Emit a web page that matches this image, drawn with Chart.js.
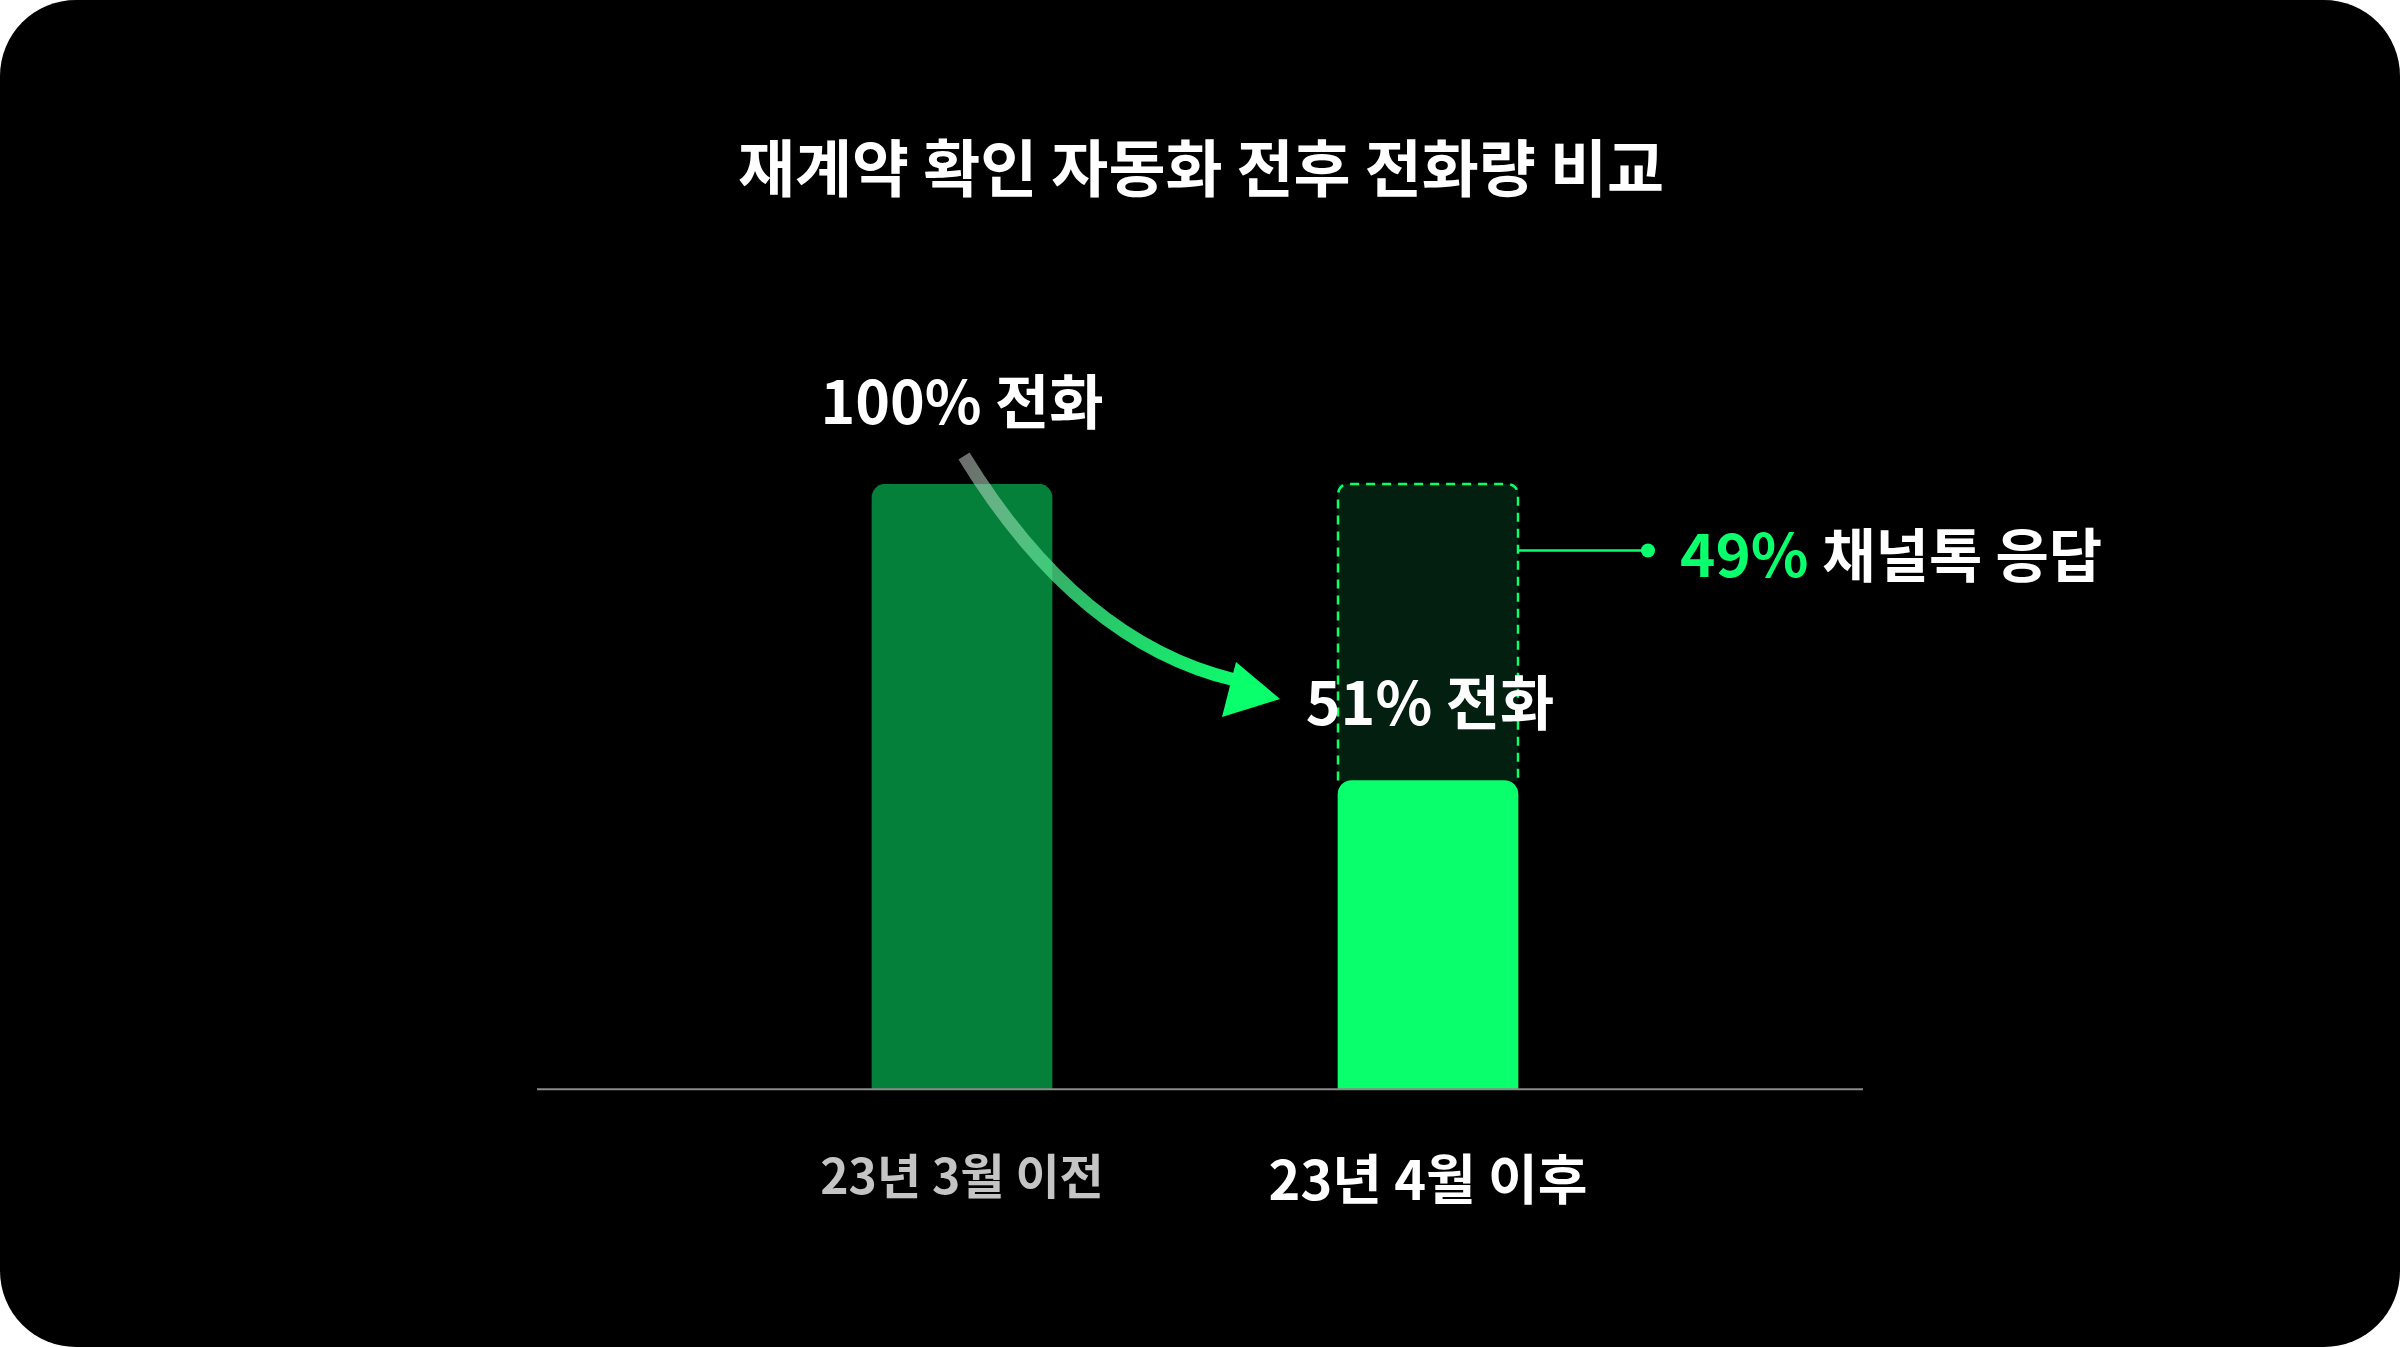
<!DOCTYPE html>
<html>
<head>
<meta charset="utf-8">
<script src="https://cdn.jsdelivr.net/npm/chart.js@4"></script>
<style>
html,body{margin:0;padding:0;background:#fff;}
#wrap{width:2400px;height:1347px;background:#000;border-radius:76px;overflow:hidden;}
</style>
</head>
<body>
<div id="wrap"><canvas id="c" width="2400" height="1347"></canvas></div>
<script>
var categories = ['23년 3월 이전', '23년 4월 이후'];
var calls = [100, 51];
var chatResponses = [0, 49];
var titleText = '재계약 확인 자동화 전후 전화량 비교';
var KFONT = '"Noto Sans CJK KR", "Noto Sans", sans-serif';

var overlay = {
    id: 'overlay',
    afterDatasetsDraw: function(chart){
        var ctx = chart.ctx;
        var y = chart.scales.y;
        var m0 = chart.getDatasetMeta(0), m1 = chart.getDatasetMeta(1);
        ctx.save();
        // axis line wider than the plot area
        ctx.strokeStyle = '#8a8a8a';
        ctx.lineWidth = 2;
        ctx.beginPath(); ctx.moveTo(537, chart.chartArea.bottom); ctx.lineTo(1863, chart.chartArea.bottom); ctx.stroke();
        // dashed box around the second bar
        var b = m1.data[1], w = b.width / 2;
        var top = y.getPixelForValue(100), bot = m0.data[1].y;
        ctx.strokeStyle = '#0aff6c';
        ctx.lineWidth = 2.5;
        ctx.setLineDash([9, 7]);
        ctx.beginPath();
        ctx.moveTo(b.x - w, bot); ctx.lineTo(b.x - w, top + 12);
        ctx.quadraticCurveTo(b.x - w, top, b.x - w + 12, top);
        ctx.lineTo(b.x + w - 12, top);
        ctx.quadraticCurveTo(b.x + w, top, b.x + w, top + 12);
        ctx.lineTo(b.x + w, bot);
        ctx.stroke();
        ctx.setLineDash([]);
        // connector line + dot
        var ly = y.getPixelForValue(89);
        ctx.lineWidth = 2.5;
        ctx.beginPath(); ctx.moveTo(b.x + w, ly); ctx.lineTo(b.x + w + 130, ly); ctx.stroke();
        ctx.fillStyle = '#0aff6c';
        ctx.beginPath(); ctx.arc(b.x + w + 130, ly, 7, 0, Math.PI * 2); ctx.fill();
        // labels
        ctx.textBaseline = 'middle';
        ctx.font = 'bold 60px ' + KFONT;
        ctx.textAlign = 'left';
        var lx = b.x + w + 162;
        ctx.fillText(chatResponses[1] + '%', lx, ly + 4);
        var pw = ctx.measureText(chatResponses[1] + '% ').width;
        ctx.fillStyle = '#fff';
        ctx.font = 'bold 58px ' + KFONT;
        ctx.fillText('채널톡 응답', lx + pw, ly + 4);
        ctx.textAlign = 'center';
        ctx.font = 'bold 59px ' + KFONT;
        var a = m0.data[0];
        ctx.fillText(calls[0] + '% 전화', a.x, 402);
        ctx.fillText(calls[1] + '% 전화', b.x + 2, 703);
        // curved arrow
        var g = ctx.createLinearGradient(964, 456, 1240, 696);
        g.addColorStop(0, 'rgba(200,200,200,0.55)');
        g.addColorStop(0.45, 'rgba(60,230,130,0.8)');
        g.addColorStop(1, '#0aff6c');
        ctx.strokeStyle = g;
        ctx.lineWidth = 13;
        ctx.beginPath();
        ctx.moveTo(964, 456);
        ctx.bezierCurveTo(1040, 580, 1130, 655, 1235, 680);
        ctx.stroke();
        ctx.fillStyle = '#0aff6c';
        ctx.beginPath();
        ctx.moveTo(1280, 699); ctx.lineTo(1222, 717); ctx.lineTo(1236, 662);
        ctx.closePath(); ctx.fill();
        // title
        ctx.fillStyle = '#fff';
        ctx.font = 'bold 62px ' + KFONT;
        ctx.fillText(titleText, 1201, 168);
        ctx.restore();
    }
};

new Chart(document.getElementById('c'), {
    type: 'bar',
    data: {
        labels: categories,
        datasets: [
            {
                data: calls,
                backgroundColor: ['#05803a', '#0aff6c'],
                borderRadius: {topLeft: 14, topRight: 14},
                borderSkipped: false,
                barThickness: 180
            },
            {
                data: chatResponses,
                backgroundColor: '#031f10',
                barThickness: 180
            }
        ]
    },
    options: {
        responsive: false,
        animation: false,
        events: [],
        layout: {padding: {left: 729, right: 739, top: 484, bottom: 85}},
        plugins: {legend: {display: false}, tooltip: {enabled: false}},
        scales: {
            x: {
                stacked: true,
                grid: {display: false},
                border: {display: false},
                ticks: {
                    padding: 50,
                    color: function(c){ return c.index === 0 ? '#c4c4c4' : '#ffffff'; },
                    font: function(c){ return {family: KFONT, weight: 'bold', size: c.index === 0 ? 48 : 54}; }
                }
            },
            y: {stacked: true, display: false, min: 0, max: 100}
        }
    },
    plugins: [overlay]
});
</script>
</body>
</html>
